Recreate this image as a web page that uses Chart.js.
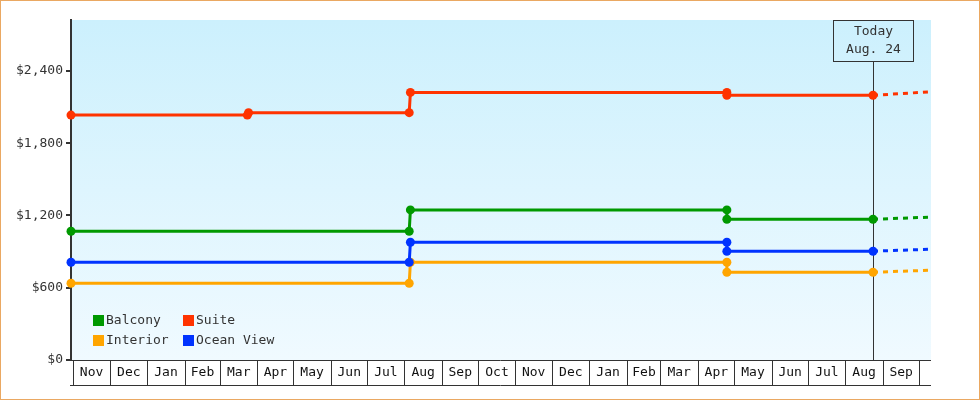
<!DOCTYPE html>
<html>
<head>
<meta charset="utf-8">
<title>Cabin prices</title>
<script src="https://cdn.jsdelivr.net/npm/chart.js@4.4.1/dist/chart.umd.min.js"></script>
<style>
  html, body { margin: 0; padding: 0; background: #fff; }
  #wrap { width: 980px; height: 400px; }
</style>
</head>
<body>
<div id="wrap"><canvas id="priceChart" width="980" height="400"></canvas></div>
<script>
// Eixo x: meses (dias contados a partir do primeiro mês)
const firstMonth = '2023-11-01';
const monthLabels = ['Nov', 'Dec', 'Jan', 'Feb', 'Mar', 'Apr', 'May', 'Jun', 'Jul', 'Aug', 'Sep', 'Oct',
                     'Nov', 'Dec', 'Jan', 'Feb', 'Mar', 'Apr', 'May', 'Jun', 'Jul', 'Aug', 'Sep'];
const axisStart = '2023-10-30';
const axisEnd = '2025-10-11';
const todayDate = '2025-08-24';
const todayText = ['Today', 'Aug. 24'];

// Eixo y
const yTicks = [0, 600, 1200, 1800, 2400];
const yMax = 2822;

// Séries
const seriesNames = ['Balcony', 'Suite', 'Interior', 'Ocean View'];
const seriesColors = ['#009900', '#ff3300', '#ffa500', '#0033ff'];

const suiteDates = ['2023-10-30', '2024-03-24', '2024-03-25', '2024-08-05', '2024-08-06', '2025-04-25', '2025-04-25', '2025-08-24', '2025-10-09'];
const suitePrices = [2033, 2033, 2053, 2053, 2221, 2221, 2197, 2197, 2225];

const stepDates = ['2023-10-30', '2024-08-05', '2024-08-06', '2025-04-25', '2025-04-25', '2025-08-24', '2025-10-09'];
const balconyPrices = [1069, 1069, 1246, 1246, 1168, 1168, 1185];
const interiorPrices = [637, 637, 811, 811, 728, 728, 745];
const oceanViewPrices = [811, 811, 977, 977, 903, 903, 919];

const FONT = 'DejaVu Sans Mono';
const INK = '#333';

function toDay(str) {
    const [y, m, d] = str.split('-').map(Number);
    const [y0, m0, d0] = firstMonth.split('-').map(Number);
    return (Date.UTC(y, m - 1, d) - Date.UTC(y0, m0 - 1, d0)) / 86400000;
}

function makePoints(dates, prices) {
    return dates.map((d, i) => ({ x: toDay(d), y: prices[i] }));
}

function makeDataset(index, dates, prices, order) {
    const last = prices.length - 1;
    return {
        label: seriesNames[index],
        data: makePoints(dates, prices),
        borderColor: seriesColors[index],
        backgroundColor: seriesColors[index],
        borderWidth: 3,
        pointRadius: ctx => ctx.dataIndex === last ? 0 : 4.5,
        pointBorderWidth: 0,
        tension: 0,
        clip: false,
        order: order,
        segment: {
            borderDash: ctx => ctx.p1DataIndex === last ? [5, 5] : undefined
        }
    };
}

// Fundo, borda e gradiente da área do gráfico
const backgroundPlugin = {
    id: 'background',
    beforeDraw(chart) {
        const { ctx, chartArea: a } = chart;
        ctx.save();
        ctx.fillStyle = '#fff';
        ctx.fillRect(0, 0, chart.width, chart.height);
        const grad = ctx.createLinearGradient(0, a.top, 0, a.bottom);
        grad.addColorStop(0, '#ccf0fd');
        grad.addColorStop(1, '#f0faff');
        ctx.fillStyle = grad;
        ctx.fillRect(a.left, a.top, a.right - a.left, a.bottom - a.top);
        ctx.strokeStyle = '#eaa862';
        ctx.lineWidth = 1;
        ctx.strokeRect(0.5, 0.5, chart.width - 1, chart.height - 1);
        ctx.restore();
    }
};

// Linha "Today"
const todayPlugin = {
    id: 'today',
    beforeDatasetsDraw(chart) {
        const { ctx, chartArea: a, scales } = chart;
        const x = Math.round(scales.x.getPixelForValue(toDay(todayDate))) + 0.5;
        const boxW = 80, boxH = 41;
        ctx.save();
        ctx.strokeStyle = INK;
        ctx.lineWidth = 1;
        ctx.beginPath();
        ctx.moveTo(x, a.top + boxH);
        ctx.lineTo(x, a.bottom);
        ctx.stroke();
        ctx.strokeRect(x - boxW / 2, a.top + 0.5, boxW, boxH);
        ctx.fillStyle = INK;
        ctx.font = `13px "${FONT}"`;
        ctx.textAlign = 'center';
        ctx.textBaseline = 'middle';
        ctx.fillText(todayText[0], x, a.top + 12);
        ctx.fillText(todayText[1], x, a.top + 30);
        ctx.restore();
    }
};

// Legenda dentro da área do gráfico (2 colunas)
const legendPlugin = {
    id: 'insideLegend',
    afterDatasetsDraw(chart) {
        const { ctx, chartArea: a } = chart;
        ctx.save();
        ctx.font = `13px "${FONT}"`;
        ctx.textBaseline = 'middle';
        seriesNames.forEach((name, i) => {
            const col = i % 2, row = Math.floor(i / 2);
            const x = a.left + 22 + col * 90;
            const y = a.bottom - 45 + row * 20;
            ctx.fillStyle = seriesColors[i];
            ctx.fillRect(x, y, 11, 11);
            ctx.fillStyle = INK;
            ctx.fillText(name, x + 13, y + 6);
        });
        ctx.restore();
    }
};

// Eixo x em caixas (um mês por caixa)
const monthAxisPlugin = {
    id: 'monthAxis',
    afterDraw(chart) {
        const { ctx, chartArea: a, scales } = chart;
        const [y0, m0] = firstMonth.split('-').map(Number);
        const top = a.bottom + 0.5, bottom = a.bottom + 25.5;
        ctx.save();
        ctx.strokeStyle = INK;
        ctx.lineWidth = 1;
        ctx.beginPath();
        ctx.moveTo(a.left - 1, top);
        ctx.lineTo(a.right, top);
        ctx.moveTo(a.left - 1, bottom);
        ctx.lineTo(a.right, bottom);
        ctx.stroke();
        ctx.font = `13px "${FONT}"`;
        ctx.fillStyle = '#111';
        ctx.textAlign = 'center';
        ctx.textBaseline = 'middle';
        for (let i = 0; i <= monthLabels.length; i++) {
            const start = new Date(Date.UTC(y0, m0 - 1 + i, 1)).toISOString().slice(0, 10);
            const xs = Math.round(scales.x.getPixelForValue(toDay(start))) + 0.5;
            ctx.beginPath();
            ctx.moveTo(xs, top);
            ctx.lineTo(xs, bottom);
            ctx.stroke();
            if (i < monthLabels.length) {
                const next = new Date(Date.UTC(y0, m0 + i, 1)).toISOString().slice(0, 10);
                const xe = scales.x.getPixelForValue(toDay(next));
                ctx.fillText(monthLabels[i], (xs + xe) / 2, a.bottom + 13);
            }
        }
        ctx.restore();
    }
};

const chart = new Chart(document.getElementById('priceChart').getContext('2d'), {
    type: 'line',
    data: {
        datasets: [
            makeDataset(0, stepDates, balconyPrices, 1),
            makeDataset(1, suiteDates, suitePrices, 2),
            makeDataset(2, stepDates, interiorPrices, 3),
            makeDataset(3, stepDates, oceanViewPrices, 0)
        ]
    },
    options: {
        responsive: false,
        animation: false,
        events: [],
        layout: { padding: { top: 20, right: 49, left: 0, bottom: 0 } },
        plugins: {
            legend: { display: false },
            tooltip: { enabled: false }
        },
        scales: {
            x: {
                type: 'linear',
                min: toDay(axisStart),
                max: toDay(axisEnd),
                grid: { display: false },
                border: { display: false },
                ticks: { display: false },
                afterFit: scale => { scale.height = 40; }
            },
            y: {
                min: 0,
                max: yMax,
                afterBuildTicks: scale => { scale.ticks = yTicks.map(v => ({ value: v })); },
                afterFit: scale => { scale.width = 71; },
                border: { color: INK, width: 2 },
                grid: { drawOnChartArea: false, color: INK, lineWidth: 2, tickLength: 5 },
                ticks: {
                    color: INK,
                    padding: 3,
                    font: { family: FONT, size: 13 },
                    callback: v => '$' + v.toLocaleString('en-US')
                }
            }
        }
    },
    plugins: [backgroundPlugin, todayPlugin, legendPlugin, monthAxisPlugin]
});
</script>
</body>
</html>
